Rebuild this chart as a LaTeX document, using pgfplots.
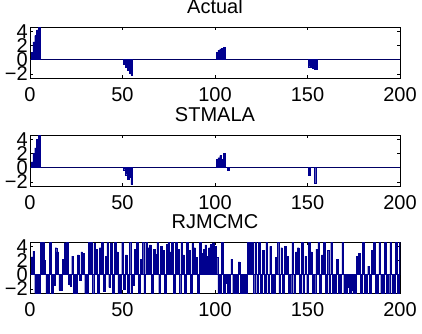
\documentclass[border=0pt]{standalone}
\usepackage{pgfplots}
\pgfplotsset{compat=1.18}
\usepackage{fontspec}
\setmainfont{Liberation Sans}
\definecolor{barblue}{RGB}{0,0,143}
\pgfplotsset{
  sub/.style={
    scale only axis, width=370pt, height=51pt, anchor=south west,
    xmin=0, xmax=200, ymin=-2.6, ymax=4.6,
    xtick={0,50,100,150,200},
    ytick={-2,0,2,4}, yticklabels={−2,0,2,4},
    tick align=inside, major tick length=3pt,
    /pgf/number format/assume math mode=true,
    ticklabel style={font=\fontsize{20}{24}\selectfont},
    x tick label style={anchor=north, inner sep=0pt, yshift=-9pt},
    y tick label style={anchor=east, inner sep=0pt, xshift=-2pt},
    every axis title shift=0pt,
    title style={at={(0.5,1)}, anchor=base, yshift=14pt, inner sep=0pt, font=\fontsize{20}{24}\selectfont},
    axis line style={line width=0.6pt},
    every tick/.style={black, line width=0.4pt},
  },
  mybar/.style={ybar, bar width=0.9, fill=barblue, draw=barblue, line width=0.3pt, bar shift=0pt},
  base/.style={barblue!70!black, line width=0.6pt, no marks},
}
\pgfplotstableread{
x y
1 1.0
2 2.5
3 3.4
4 4.2
5 4.6
51 -0.6
52 -1.1
53 -1.5
54 -1.9
55 -2.2
101 1.0
102 1.3
103 1.5
104 1.6
105 1.7
151 -1.0
152 -1.1
153 -1.2
154 -1.3
155 -1.4
}\actual
\pgfplotstableread{
x y
1 0.8
2 2.0
3 2.8
4 4.0
5 4.6
51 -0.3
52 -1.0
53 -1.7
54 -1.3
55 -2.4
101 1.2
102 1.4
103 1.7
104 1.2
105 2.0
107 -0.4
151 -1.1
154 -2.2
}\stmala
\pgfplotstableread{
x y
1 2.5
2 3.3
3 -2.6
4 -2.6
5 -2.6
6 4.6
7 4.6
8 2.0
9 -2.6
10 -2.6
11 4.6
12 -2.6
13 -1.5
14 3.8
15 3.2
16 -2.2
17 -2.2
18 2.2
19 4.5
20 4.6
21 -1.4
22 -1.6
23 2.6
24 -2.6
25 -2.6
26 2.8
27 -0.8
28 3.2
29 3.0
30 -2.6
31 -2.6
32 4.6
33 4.6
34 -2.6
35 4.4
36 3.6
37 -2.6
38 3.8
39 4.6
40 -2.4
41 2.6
42 4.6
43 -1.8
44 4.5
45 -2.6
46 4.6
47 3.2
48 -2.6
49 -2.6
50 4.6
51 -2.0
52 2.8
53 -2.6
54 4.6
55 -2.6
56 -1.5
57 3.6
58 4.6
59 -2.6
60 2.2
61 4.6
62 -2.6
63 4.6
64 3.8
65 4.2
66 -2.6
67 3.6
68 2.9
69 4.6
70 -2.6
71 4.0
72 3.4
73 -2.6
74 4.3
75 4.6
76 3.2
77 4.6
78 -2.6
79 4.6
80 3.6
81 -2.6
82 4.6
83 2.8
84 -2.6
85 4.6
86 3.4
87 -2.6
88 4.4
89 3.8
90 2.4
91 -2.6
92 4.6
93 3.0
94 3.6
95 4.2
96 2.6
97 3.8
98 4.3
99 4.5
100 4.0
101 2.4
102 -2.6
103 -2.6
104 4.6
105 -2.6
106 -1.2
107 -2.6
108 -2.6
109 2.2
110 -2.6
111 -2.6
112 -2.6
113 1.8
114 -2.6
115 -2.6
116 -2.6
117 -2.6
118 4.6
119 4.6
120 4.6
121 -2.6
122 4.6
123 -2.6
124 4.6
125 -2.6
126 3.4
127 -2.6
128 4.6
129 -2.6
130 4.0
131 -2.6
132 -2.6
133 2.4
134 4.6
135 -2.6
136 3.8
137 -2.6
138 4.0
139 2.6
140 -2.6
141 -2.6
142 4.6
143 -2.6
144 3.2
145 3.8
146 -2.6
147 4.6
148 -2.6
149 2.6
150 -2.6
151 4.6
152 3.2
153 -2.6
154 -2.6
155 3.6
156 4.6
157 -2.6
158 2.8
159 4.6
160 -2.6
161 3.4
162 -2.6
163 4.6
164 -2.6
165 -2.6
166 2.2
167 -2.6
168 -2.6
169 4.6
170 -2.6
171 -2.6
172 -1.8
173 -2.6
174 -2.2
175 -2.6
176 -2.6
177 2.6
178 3.0
179 -2.6
180 4.6
181 -2.6
182 -2.6
183 1.2
184 -2.6
185 3.4
186 4.6
187 -2.6
188 -2.6
189 4.6
190 -2.6
191 -2.6
192 4.6
193 -2.6
194 -2.6
195 4.6
196 -2.6
197 -2.6
198 4.6
199 -2.6
200 4.6
}\rjmcmc
\begin{document}
\begin{tikzpicture}
\useasboundingbox (0,0) rectangle (422pt,-333pt);
\begin{axis}[sub, at={(30pt,-78pt)}, title={Actual}]
\addplot[base] coordinates {(0,0) (200,0)};
\addplot[mybar] table[x=x,y=y] {\actual};
\end{axis}
\begin{axis}[sub, at={(30pt,-186pt)}, title={STMALA}]
\addplot[base] coordinates {(0,0) (200,0)};
\addplot[mybar] table[x=x,y=y] {\stmala};
\end{axis}
\begin{axis}[sub, at={(30pt,-293pt)}, title={RJMCMC}]
\addplot[base] coordinates {(0,0) (200,0)};
\addplot[mybar] table[x=x,y=y] {\rjmcmc};
\end{axis}
\end{tikzpicture}
\end{document}
